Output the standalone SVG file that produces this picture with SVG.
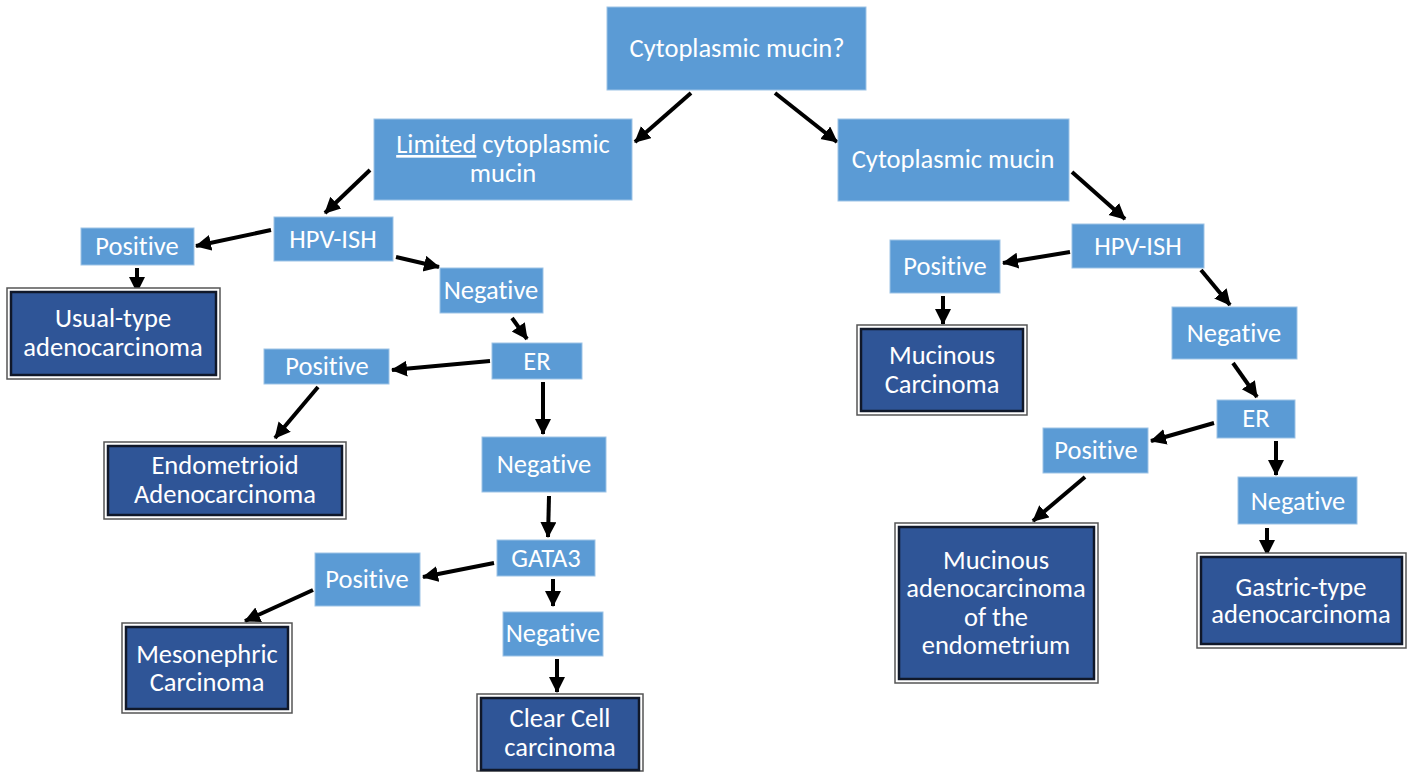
<svg xmlns="http://www.w3.org/2000/svg" width="1407" height="772" viewBox="0 0 1407 772">
<defs>
<marker id="ah" markerUnits="userSpaceOnUse" markerWidth="18" markerHeight="18" refX="15" refY="8" orient="auto">
<path d="M0,0 L16,8 L0,16 Z" fill="#000"/>
</marker>
<style>
.lb{fill:#5B9BD5;stroke:#9dc3e6;stroke-width:1}
.do{fill:#fff;stroke:#555;stroke-width:1.5}
.di{fill:#2F5597;stroke:#10182a;stroke-width:2.5}
.t{font-family:Carlito,Lato,"Liberation Sans",sans-serif;font-size:26.5px;fill:#fff;text-anchor:middle;font-variant-ligatures:none}
.c line{stroke:#000;stroke-width:4;marker-end:url(#ah)}
</style>
</defs>
<rect width="1407" height="772" fill="#fff"/>

<g class="c" id="connectors">
<line x1="691" y1="93" x2="635" y2="142"/>
<line x1="775" y1="93" x2="837" y2="142"/>
<line x1="370" y1="170" x2="325" y2="213"/>
<line x1="271" y1="230" x2="196" y2="246"/>
<line x1="137" y1="268" x2="137" y2="292"/>
<line x1="396" y1="257" x2="439" y2="267"/>
<line x1="512" y1="318" x2="527" y2="339"/>
<line x1="490" y1="361" x2="392" y2="370"/>
<line x1="543" y1="382" x2="543" y2="434"/>
<line x1="318" y1="387" x2="275" y2="438"/>
<line x1="549" y1="496" x2="548" y2="537"/>
<line x1="494" y1="563" x2="423" y2="577"/>
<line x1="553" y1="579" x2="553" y2="606"/>
<line x1="313" y1="590" x2="245" y2="621"/>
<line x1="557" y1="659" x2="557" y2="692"/>
<line x1="1072" y1="172" x2="1125" y2="219"/>
<line x1="1070" y1="252" x2="1003" y2="263"/>
<line x1="943" y1="296" x2="943" y2="324"/>
<line x1="1201" y1="270" x2="1230" y2="305"/>
<line x1="1233" y1="363" x2="1257" y2="397"/>
<line x1="1214" y1="423" x2="1151" y2="441"/>
<line x1="1276" y1="441" x2="1276" y2="475"/>
<line x1="1085" y1="477" x2="1033" y2="521"/>
<line x1="1267" y1="528" x2="1267" y2="555"/>
</g>

<g id="n-top"><rect class="lb" x="607" y="7" width="259" height="83"/><text class="t" x="737" y="57">Cytoplasmic mucin?</text></g>
<g id="n-limited"><rect class="lb" x="374" y="119" width="258" height="81"/><text class="t" x="503" y="153"><tspan text-decoration="underline">Limited</tspan> cytoplasmic</text><text class="t" x="503" y="182">mucin</text></g>
<g id="n-cyto"><rect class="lb" x="838" y="119" width="231" height="82"/><text class="t" x="953" y="168">Cytoplasmic mucin</text></g>

<g id="n-hpv-l"><rect class="lb" x="274" y="217" width="119" height="44"/><text class="t" x="333" y="248">HPV-ISH</text></g>
<g id="n-pos-l1"><rect class="lb" x="81" y="228" width="113" height="37"/><text class="t" x="137" y="255">Positive</text></g>
<g id="n-usual"><rect class="do" x="7" y="288" width="213" height="91"/><rect class="di" x="11" y="292" width="205" height="83"/><text class="t" x="113" y="327">Usual-type</text><text class="t" x="113" y="356">adenocarcinoma</text></g>
<g id="n-neg-l1"><rect class="lb" x="440" y="268" width="103" height="45"/><text class="t" x="491" y="299">Negative</text></g>
<g id="n-er-l"><rect class="lb" x="492" y="343" width="90" height="36"/><text class="t" x="537" y="370">ER</text></g>
<g id="n-pos-l2"><rect class="lb" x="264" y="349" width="125" height="35"/><text class="t" x="327" y="375">Positive</text></g>
<g id="n-endo"><rect class="do" x="104" y="442" width="242" height="77"/><rect class="di" x="108" y="446" width="234" height="69"/><text class="t" x="225" y="474">Endometrioid</text><text class="t" x="225" y="503">Adenocarcinoma</text></g>
<g id="n-neg-l2"><rect class="lb" x="482" y="437" width="124" height="55"/><text class="t" x="544" y="473">Negative</text></g>
<g id="n-gata3"><rect class="lb" x="497" y="540" width="98" height="36"/><text class="t" x="546" y="567">GATA3</text></g>
<g id="n-pos-l3"><rect class="lb" x="315" y="553" width="105" height="53"/><text class="t" x="367" y="588">Positive</text></g>
<g id="n-meso"><rect class="do" x="122" y="623" width="170" height="90"/><rect class="di" x="126" y="627" width="162" height="82"/><text class="t" x="207" y="663">Mesonephric</text><text class="t" x="207" y="691">Carcinoma</text></g>
<g id="n-neg-l3"><rect class="lb" x="503" y="612" width="100" height="44"/><text class="t" x="553" y="642">Negative</text></g>
<g id="n-clear"><rect class="do" x="477" y="694" width="166" height="77"/><rect class="di" x="481" y="698" width="158" height="72"/><text class="t" x="560" y="727">Clear Cell</text><text class="t" x="560" y="756">carcinoma</text></g>

<g id="n-hpv-r"><rect class="lb" x="1072" y="224" width="132" height="44"/><text class="t" x="1138" y="255">HPV-ISH</text></g>
<g id="n-pos-r1"><rect class="lb" x="890" y="240" width="110" height="53"/><text class="t" x="945" y="275">Positive</text></g>
<g id="n-mucinous"><rect class="do" x="857" y="325" width="170" height="90"/><rect class="di" x="861" y="329" width="162" height="82"/><text class="t" x="942" y="364">Mucinous</text><text class="t" x="942" y="393">Carcinoma</text></g>
<g id="n-neg-r1"><rect class="lb" x="1172" y="307" width="125" height="52"/><text class="t" x="1234" y="342">Negative</text></g>
<g id="n-er-r"><rect class="lb" x="1217" y="400" width="78" height="38"/><text class="t" x="1256" y="427">ER</text></g>
<g id="n-pos-r2"><rect class="lb" x="1043" y="428" width="105" height="45"/><text class="t" x="1096" y="459">Positive</text></g>
<g id="n-neg-r2"><rect class="lb" x="1238" y="477" width="119" height="47"/><text class="t" x="1298" y="510">Negative</text></g>
<g id="n-mucadeno"><rect class="do" x="895" y="523" width="203" height="160"/><rect class="di" x="899" y="527" width="195" height="152"/><text class="t" x="996" y="569">Mucinous</text><text class="t" x="996" y="597">adenocarcinoma</text><text class="t" x="996" y="626">of the</text><text class="t" x="996" y="654">endometrium</text></g>
<g id="n-gastric"><rect class="do" x="1197" y="553" width="209" height="95"/><rect class="di" x="1201" y="557" width="201" height="87"/><text class="t" x="1301" y="596">Gastric-type</text><text class="t" x="1301" y="623">adenocarcinoma</text></g>
</svg>
